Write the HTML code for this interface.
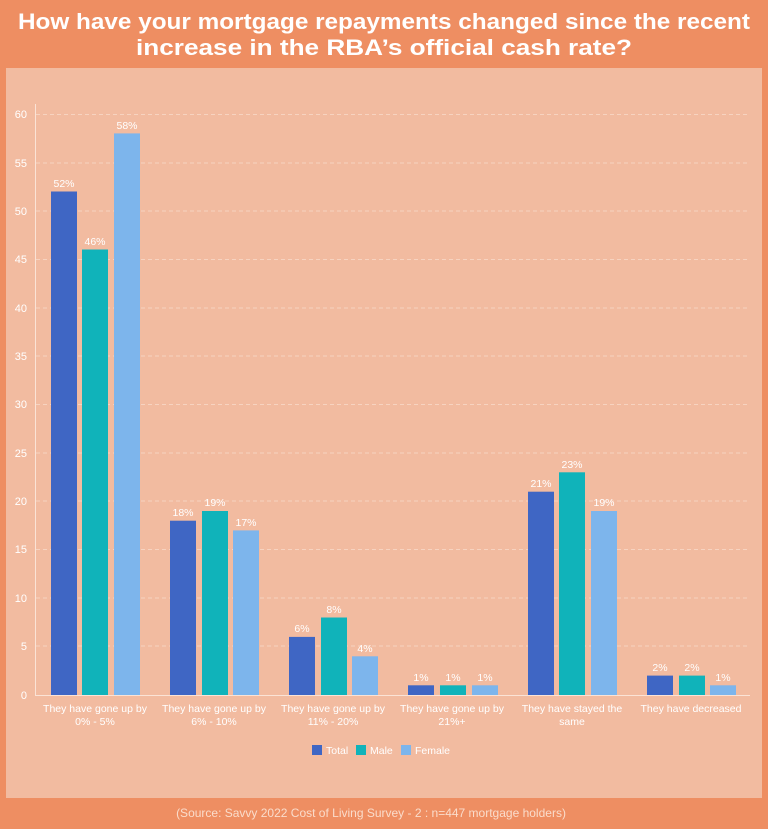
<!DOCTYPE html>
<html><head><meta charset="utf-8"><style>
html,body{margin:0;padding:0;background:#EE8E62;}
svg{display:block;font-family:"Liberation Sans",sans-serif;}
</style></head><body>
<svg width="768" height="829" viewBox="0 0 768 829" xmlns="http://www.w3.org/2000/svg">
<rect width="768" height="829" fill="#EE8E62"/>
<text x="384" y="29" text-anchor="middle" font-size="22" font-weight="bold" fill="#fff" textLength="732" lengthAdjust="spacingAndGlyphs">How have your mortgage repayments changed since the recent</text>
<text x="384" y="55" text-anchor="middle" font-size="22" font-weight="bold" fill="#fff" textLength="496" lengthAdjust="spacingAndGlyphs">increase in the RBA’s official cash rate?</text>
<rect x="6" y="68" width="756" height="730" fill="#F2BBA0"/>
<g stroke="#F7D3C0" stroke-width="1" stroke-dasharray="4,3">
<line x1="36" x2="750" y1="114.5" y2="114.5"/><line x1="36" x2="750" y1="163" y2="163"/><line x1="36" x2="750" y1="211" y2="211"/><line x1="36" x2="750" y1="259.5" y2="259.5"/><line x1="36" x2="750" y1="308" y2="308"/><line x1="36" x2="750" y1="356" y2="356"/><line x1="36" x2="750" y1="404.5" y2="404.5"/><line x1="36" x2="750" y1="453" y2="453"/><line x1="36" x2="750" y1="501" y2="501"/><line x1="36" x2="750" y1="549.5" y2="549.5"/><line x1="36" x2="750" y1="598" y2="598"/><line x1="36" x2="750" y1="646" y2="646"/>
</g>
<g font-size="11" fill="#fff" text-anchor="end">
<text x="27" y="118">60</text><text x="27" y="167">55</text><text x="27" y="215">50</text><text x="27" y="263">45</text><text x="27" y="312">40</text><text x="27" y="360">35</text><text x="27" y="408">30</text><text x="27" y="457">25</text><text x="27" y="505">20</text><text x="27" y="553">15</text><text x="27" y="602">10</text><text x="27" y="650">5</text><text x="27" y="699">0</text>
</g>
<g>
<rect x="51" y="191.5" width="26" height="503.5" fill="#3F66C4"/>
<rect x="82" y="249.5" width="26" height="445.5" fill="#10B3BA"/>
<rect x="114" y="133.4" width="26" height="561.6" fill="#7DB5EC"/>
<rect x="170" y="520.7" width="26" height="174.3" fill="#3F66C4"/>
<rect x="202" y="511" width="26" height="184" fill="#10B3BA"/>
<rect x="233" y="530.4" width="26" height="164.6" fill="#7DB5EC"/>
<rect x="289" y="636.9" width="26" height="58.1" fill="#3F66C4"/>
<rect x="321" y="617.5" width="26" height="77.5" fill="#10B3BA"/>
<rect x="352" y="656.3" width="26" height="38.7" fill="#7DB5EC"/>
<rect x="408" y="685.3" width="26" height="9.7" fill="#3F66C4"/>
<rect x="440" y="685.3" width="26" height="9.7" fill="#10B3BA"/>
<rect x="472" y="685.3" width="26" height="9.7" fill="#7DB5EC"/>
<rect x="528" y="491.7" width="26" height="203.3" fill="#3F66C4"/>
<rect x="559" y="472.3" width="26" height="222.7" fill="#10B3BA"/>
<rect x="591" y="511" width="26" height="184" fill="#7DB5EC"/>
<rect x="647" y="675.6" width="26" height="19.4" fill="#3F66C4"/>
<rect x="679" y="675.6" width="26" height="19.4" fill="#10B3BA"/>
<rect x="710" y="685.3" width="26" height="9.7" fill="#7DB5EC"/>
</g>
<line x1="35.5" y1="104" x2="35.5" y2="695" stroke="#FBE3D6" stroke-width="1"/>
<line x1="35" y1="695.5" x2="750" y2="695.5" stroke="#FBE3D6" stroke-width="1"/>
<g font-size="10.5" fill="#fff" text-anchor="middle">
<text x="64" y="187">52%</text><text x="95" y="245">46%</text><text x="127" y="129">58%</text>
<text x="183" y="516">18%</text><text x="215" y="506">19%</text><text x="246" y="526">17%</text>
<text x="302" y="632">6%</text><text x="334" y="613">8%</text><text x="365" y="652">4%</text>
<text x="421" y="681">1%</text><text x="453" y="681">1%</text><text x="485" y="681">1%</text>
<text x="541" y="487">21%</text><text x="572" y="468">23%</text><text x="604" y="506">19%</text>
<text x="660" y="671">2%</text><text x="692" y="671">2%</text><text x="723" y="681">1%</text>
</g>
<g font-size="10.5" fill="#fff" text-anchor="middle">
<text x="95" y="712">They have gone up by</text><text x="95" y="725">0% - 5%</text>
<text x="214" y="712">They have gone up by</text><text x="214" y="725">6% - 10%</text>
<text x="333" y="712">They have gone up by</text><text x="333" y="725">11% - 20%</text>
<text x="452" y="712">They have gone up by</text><text x="452" y="725">21%+</text>
<text x="572" y="712">They have stayed the</text><text x="572" y="725">same</text>
<text x="691" y="712">They have decreased</text>
</g>
<g font-size="10.5" fill="#fff">
<rect x="312" y="745" width="10" height="10" fill="#3F66C4"/><text x="326" y="754">Total</text>
<rect x="356" y="745" width="10" height="10" fill="#10B3BA"/><text x="370" y="754">Male</text>
<rect x="401" y="745" width="10" height="10" fill="#7DB5EC"/><text x="415" y="754">Female</text>
</g>
<text x="371" y="817" text-anchor="middle" font-size="12" fill="#FADCCB">(Source: Savvy 2022 Cost of Living Survey - 2 : n=447 mortgage holders)</text>
</svg>
</body></html>
